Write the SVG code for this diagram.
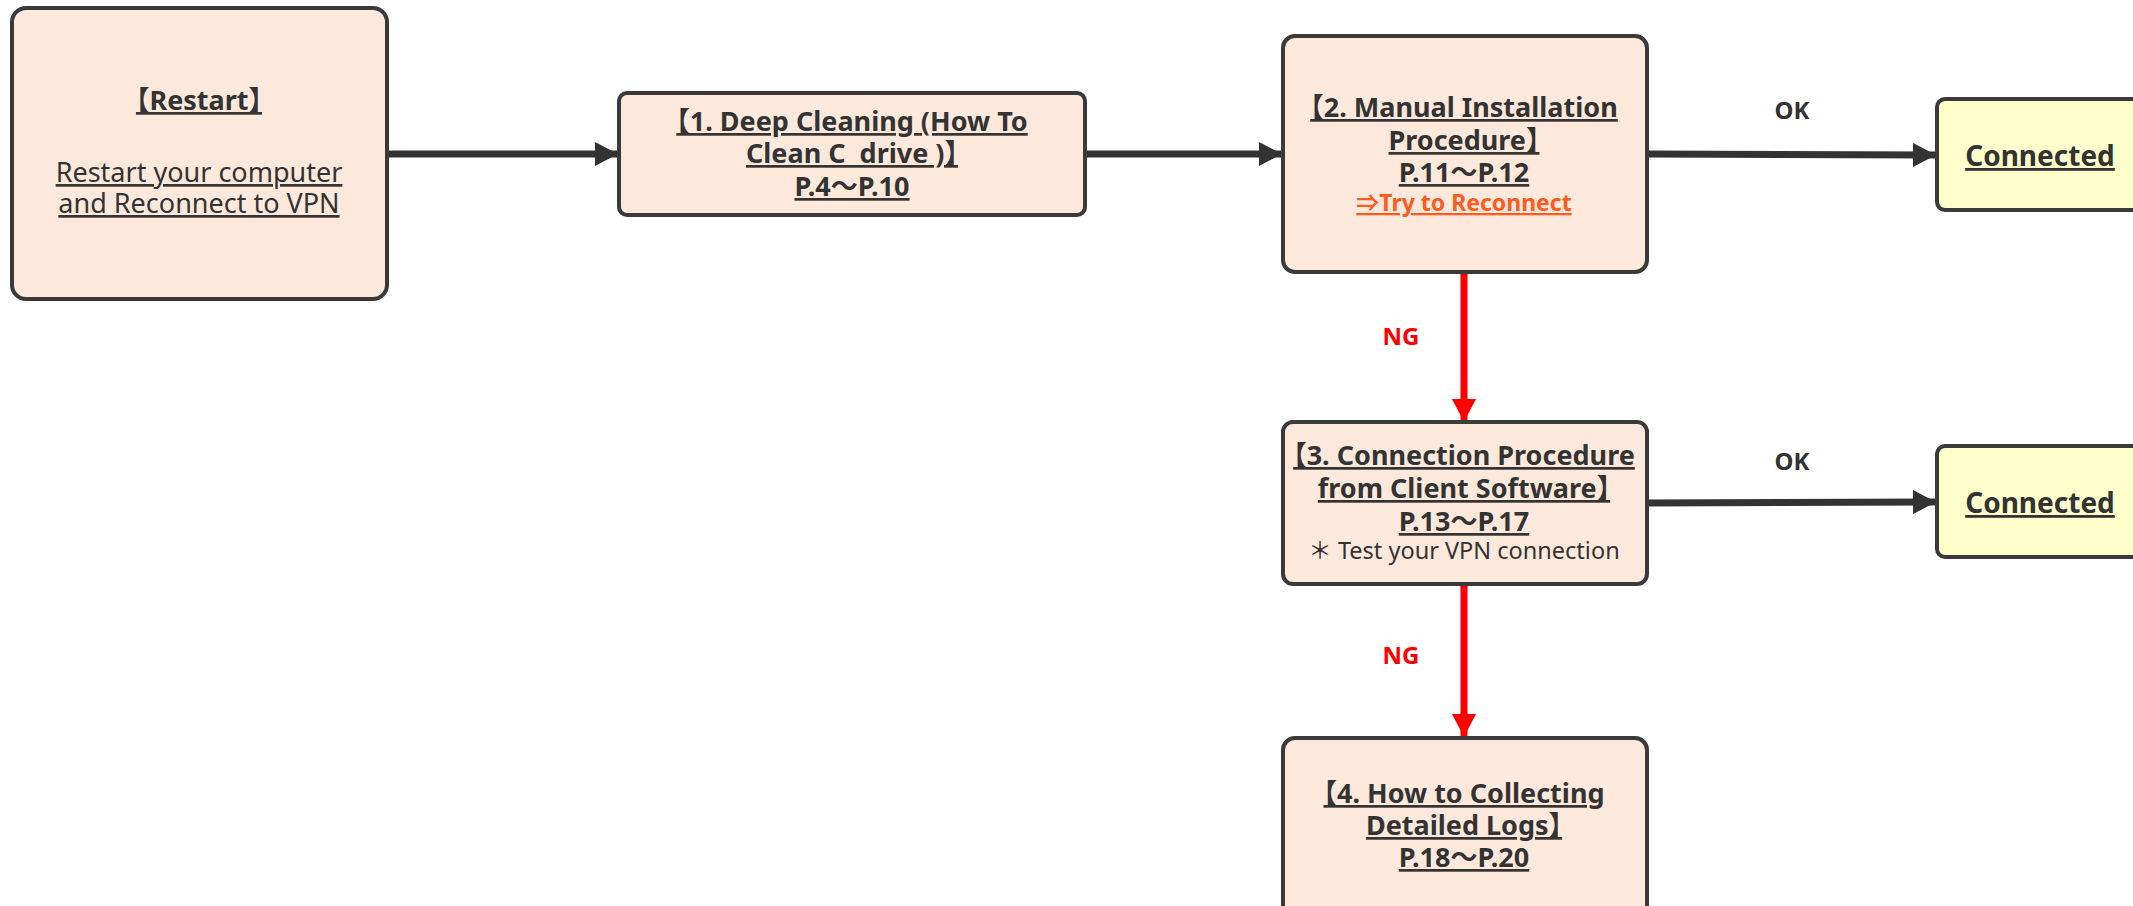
<svg xmlns="http://www.w3.org/2000/svg" width="2133" height="906" viewBox="0 0 2133 906">
<style>
.box{fill:#FDE9DB;stroke:#3A3A3A;stroke-width:4}
.ok{fill:#FFFFCC;stroke:#3A3A3A;stroke-width:4}
text{font-family:"Noto Sans","Noto Sans CJK JP","Open Sans","Liberation Sans",sans-serif;fill:#333;text-anchor:middle;font-feature-settings:"halt"}
.b{font-weight:bold;font-size:27px;text-decoration:underline}
.n{font-size:27px;text-decoration:underline}
.o{font-weight:bold;font-size:23px;fill:#FF5A1F;text-decoration:underline}
.s{font-size:23.5px;font-weight:normal;text-decoration:none}
.c{font-weight:bold;font-size:28px;text-decoration:underline}
.lbl{font-weight:bold;font-size:24px}
.ng{font-weight:bold;font-size:24px;fill:#FF0000}
.dk{stroke:#333;stroke-width:7;fill:none}
.rd{stroke:#FF0000;stroke-width:7;fill:none}
</style>
<defs>
<marker id="ad" markerUnits="userSpaceOnUse" markerWidth="24" markerHeight="24" refX="22" refY="12" orient="auto"><path d="M0,0 L23,12 L0,24 Z" fill="#333"/></marker>
<marker id="ar" markerUnits="userSpaceOnUse" markerWidth="24" markerHeight="24" refX="22" refY="12" orient="auto"><path d="M0,0 L23,12 L0,24 Z" fill="#FF0000"/></marker>
</defs>
<rect width="2133" height="906" fill="#fff"/>
<g id="connectors">
<line class="dk" x1="387" y1="154" x2="617" y2="154" marker-end="url(#ad)"/>
<line class="dk" x1="1085" y1="154" x2="1281" y2="154" marker-end="url(#ad)"/>
<line class="dk" x1="1647" y1="154" x2="1935" y2="155" marker-end="url(#ad)"/>
<line class="dk" x1="1647" y1="503" x2="1935" y2="502" marker-end="url(#ad)"/>
<line class="rd" x1="1464" y1="272" x2="1464" y2="421" marker-end="url(#ar)"/>
<line class="rd" x1="1464" y1="584" x2="1464" y2="736" marker-end="url(#ar)"/>
<text class="lbl" x="1792" y="119">OK</text>
<text class="lbl" x="1792" y="470">OK</text>
<text class="ng" x="1401" y="345">NG</text>
<text class="ng" x="1401" y="664">NG</text>
</g>
<g id="restart">
<rect class="box" x="12" y="8" width="375" height="291" rx="14"/>
<text class="b" x="199" y="110">【Restart】</text>
<text class="n"><tspan x="199" y="182">Restart your computer</tspan><tspan x="199" y="213">and Reconnect to VPN</tspan></text>
</g>
<g id="step1">
<rect class="box" x="619" y="93" width="466" height="122" rx="8"/>
<text class="b"><tspan x="852" y="131">【1. Deep Cleaning (How To</tspan><tspan x="852" y="163">Clean C&#160; drive )】</tspan><tspan x="852" y="196">P.4～P.10</tspan></text>
</g>
<g id="step2">
<rect class="box" x="1283" y="36" width="364" height="236" rx="12"/>
<text class="b"><tspan x="1464" y="117">【2. Manual Installation</tspan><tspan x="1464" y="150">Procedure】</tspan><tspan x="1464" y="182">P.11～P.12</tspan></text>
<text class="o" x="1464" y="211">⇒Try to Reconnect</text>
</g>
<g id="connected1">
<rect class="ok" x="1937" y="99" width="210" height="111" rx="8"/>
<text class="c" x="2040" y="166">Connected</text>
</g>
<g id="step3">
<rect class="box" x="1283" y="422" width="364" height="162" rx="10"/>
<text class="b"><tspan x="1464" y="465">【3. Connection Procedure</tspan><tspan x="1464" y="498">from Client Software】</tspan><tspan x="1464" y="531">P.13～P.17</tspan></text>
<text class="s" x="1464" y="559">＊ Test your VPN connection</text>
</g>
<g id="connected2">
<rect class="ok" x="1937" y="446" width="210" height="111" rx="8"/>
<text class="c" x="2040" y="513">Connected</text>
</g>
<g id="step4">
<rect class="box" x="1283" y="738" width="364" height="190" rx="12"/>
<text class="b"><tspan x="1464" y="803">【4. How to Collecting</tspan><tspan x="1464" y="835">Detailed Logs】</tspan><tspan x="1464" y="867">P.18～P.20</tspan></text>
</g>
</svg>
